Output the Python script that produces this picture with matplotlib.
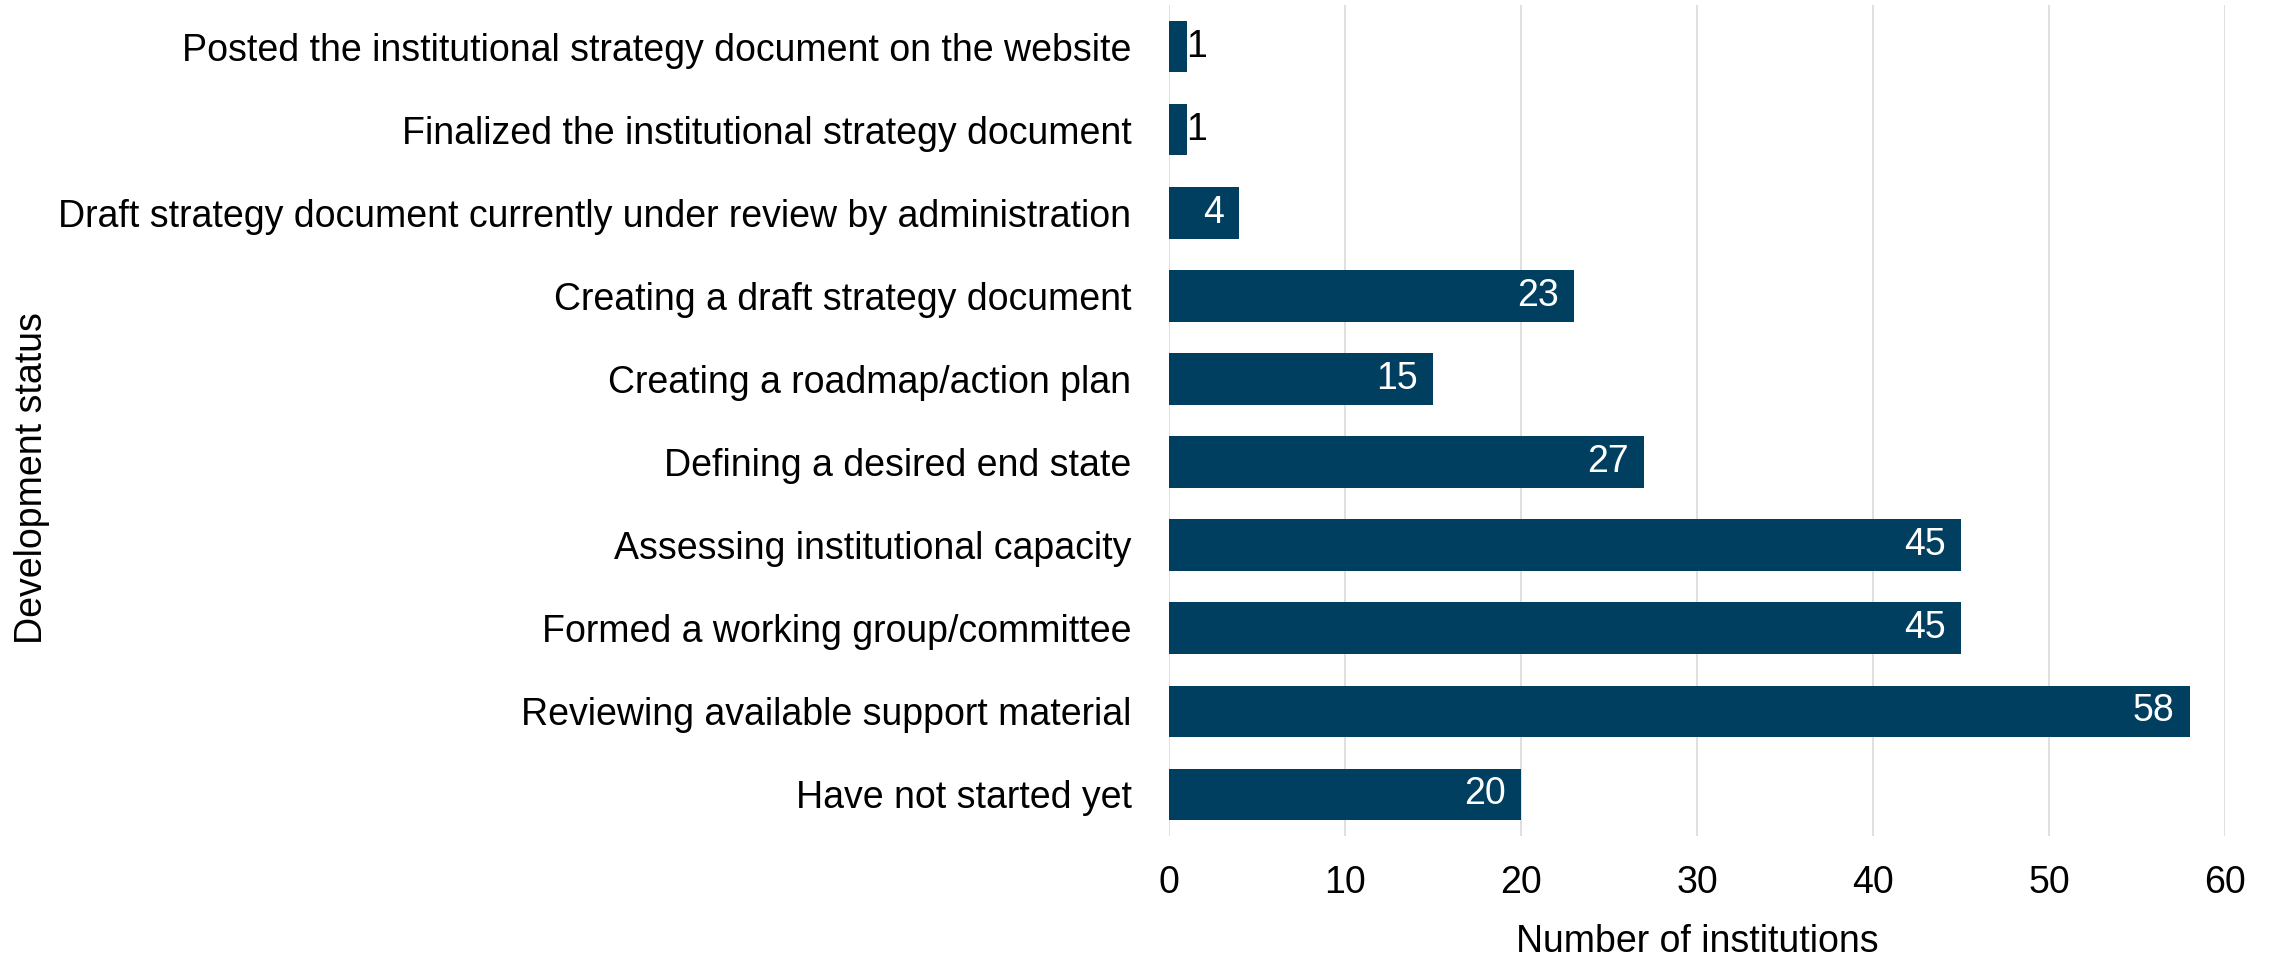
import matplotlib
matplotlib.use("Agg")
import matplotlib.pyplot as plt

categories = [
    "Posted the institutional strategy document on the website",
    "Finalized the institutional strategy document",
    "Draft strategy document currently under review by administration",
    "Creating a draft strategy document",
    "Creating a roadmap/action plan",
    "Defining a desired end state",
    "Assessing institutional capacity",
    "Formed a working group/committee",
    "Reviewing available support material",
    "Have not started yet",
]
values = [1, 1, 4, 23, 15, 27, 45, 45, 58, 20]
xticks = [0, 10, 20, 30, 40, 50, 60]

plt.rcParams['font.family'] = ['Liberation Sans', 'DejaVu Sans']
W, H = 2272, 958
fig = plt.figure(figsize=(W / 100, H / 100), dpi=100)
ax = fig.add_axes([1169 / W, 1 - 836 / H, (2225 - 1169) / W, (836 - 5) / H])

color = '#003F5F'
pos = list(range(len(categories)))
ax.barh(pos, values, height=0.62, color=color, zorder=3)
ax.set_ylim(len(categories) - 0.5, -0.5)
ax.set_xlim(0, 60)
ax.set_yticks(pos)
ax.set_yticklabels(categories, fontsize=27)
ax.set_xticks(xticks)
ax.set_xticklabels([str(t) for t in xticks], fontsize=27)
ax.tick_params(axis='y', length=0, pad=27)
ax.tick_params(axis='x', length=0, pad=21)
ax.grid(axis='x', color='#D9D9D9', linewidth=1.2, zorder=0)
for s in ax.spines.values():
    s.set_visible(False)

for p, v in zip(pos, values):
    if v >= 3:
        ax.annotate(str(v), (v, p), xytext=(-11, 0), textcoords='offset points',
                    ha='right', va='center', color='white', fontsize=27, zorder=4)
    else:
        ax.annotate(str(v), (v, p), xytext=(0, 0), textcoords='offset points',
                    ha='left', va='center', color='black', fontsize=27, zorder=4)

fig.text(1697 / W, 1 - 942 / H, "Number of institutions", ha='center', va='center', fontsize=27)
fig.text(32 / W, 1 - 478 / H, "Development status", ha='center', va='center', rotation=90, fontsize=27)

fig.savefig("out.png", dpi=100)
